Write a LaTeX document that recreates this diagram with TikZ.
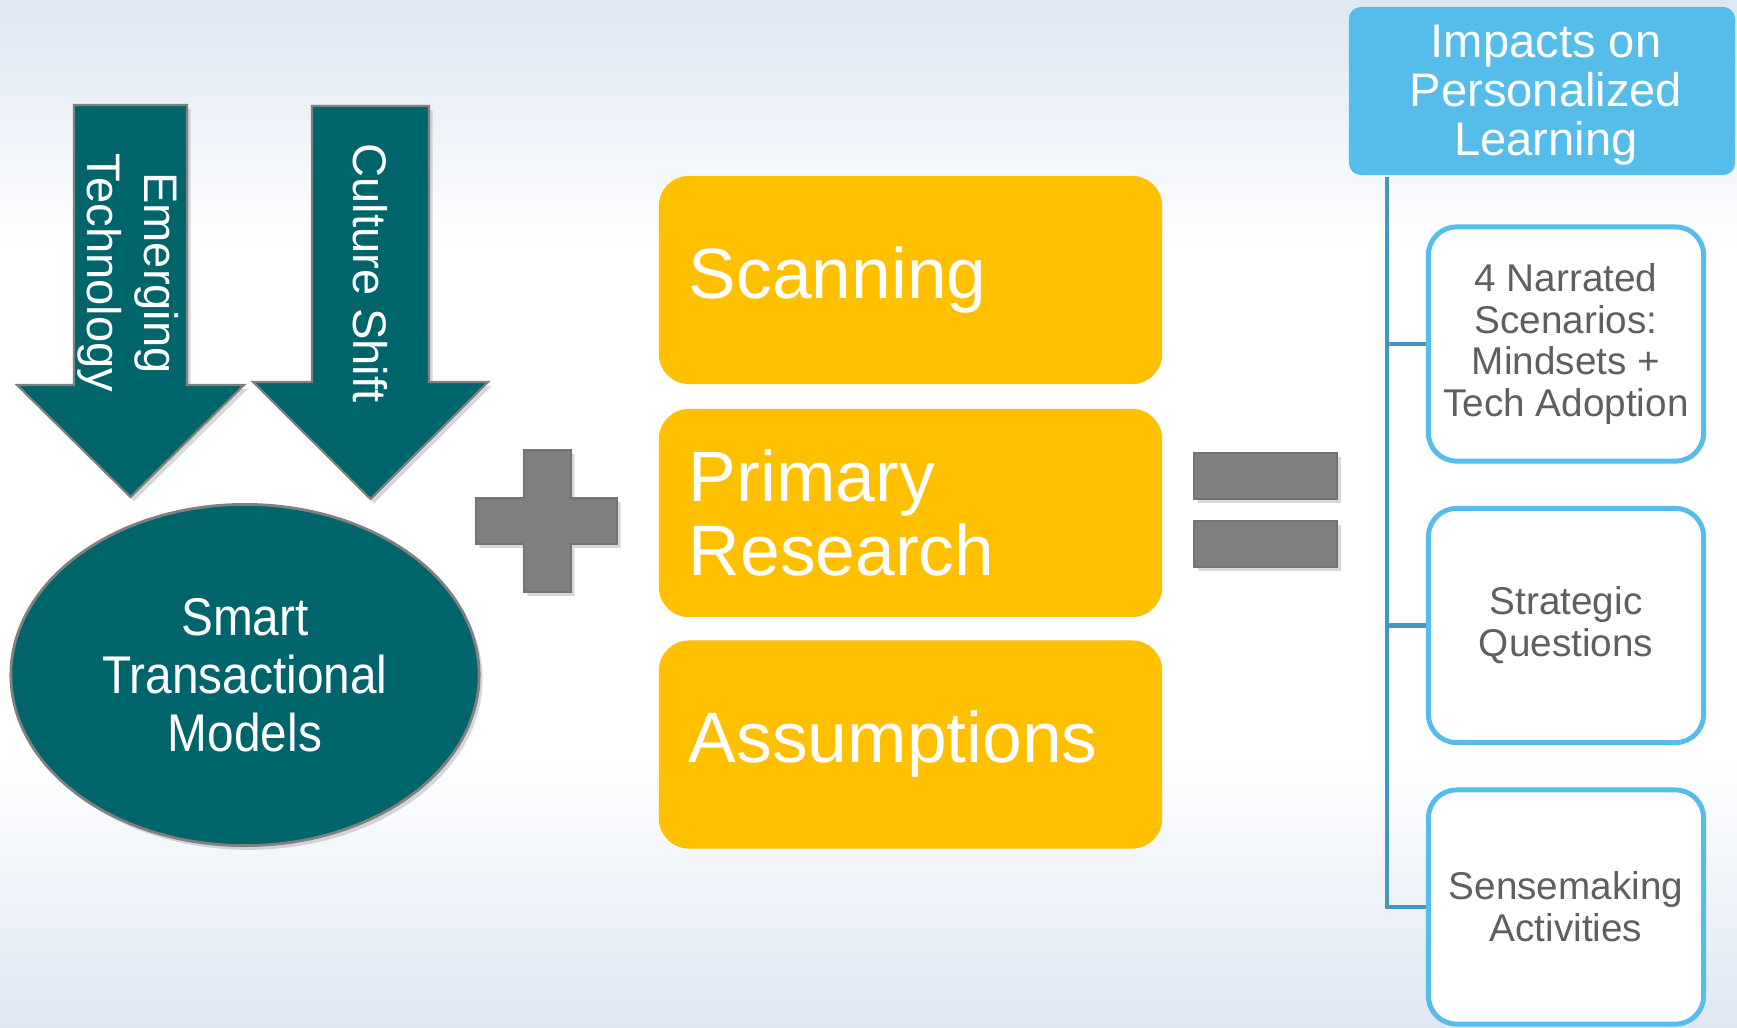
\documentclass[tikz,border=0pt]{standalone}
\usepackage{fontspec}
\setmainfont{Liberation Sans}
\newfontfamily\narrowfont{Liberation Sans}[FakeStretch=0.9]
\usetikzlibrary{shapes.geometric,shadows}

\definecolor{smartteal}{RGB}{0,101,106}
\definecolor{scanyellow}{RGB}{255,192,0}
\definecolor{impactblue}{RGB}{86,188,234}
\definecolor{treeblue}{RGB}{67,150,192}
\definecolor{kidgray}{RGB}{95,95,95}
\definecolor{signgray}{RGB}{127,127,127}
\definecolor{skyblue}{RGB}{222,231,243}

\begin{document}
\begin{tikzpicture}[x=0.01cm,y=-0.01cm,
  flow/.style={fill=smartteal,draw=gray,line width=0.6pt,
    drop shadow={shadow xshift=1pt,shadow yshift=-1.2pt,opacity=0.3}},
  flowtext/.style={text=white,align=center,inner sep=0pt,
    font=\fontsize{13.4}{16.3}\selectfont},
  stmoval/.style={ellipse,fill=smartteal,draw=gray,line width=0.8pt,
    minimum width=4.68cm,minimum height=3.41cm,inner sep=0pt,
    text=white,align=center,font=\narrowfont\fontsize{15.1}{16.5}\selectfont,
    drop shadow={shadow xshift=1pt,shadow yshift=-1.2pt,opacity=0.3}},
  opsign/.style={fill=signgray,draw=gray!90!black,line width=0.5pt,
    drop shadow={shadow xshift=1pt,shadow yshift=-1.2pt,opacity=0.3}},
  ybox/.style={rounded corners=0.3cm,fill=scanyellow,text=white,
    minimum width=5.03cm,minimum height=2.08cm,text width=4.43cm,
    inner xsep=0.3cm,align=left,font=\fontsize{20.3}{20.8}\selectfont},
  headbox/.style={rounded corners=0.12cm,fill=impactblue,text=white,
    minimum width=3.86cm,minimum height=1.68cm,align=center,
    font=\fontsize{13.4}{13.9}\selectfont},
  kidbox/.style={rounded corners=0.28cm,draw=impactblue,line width=1.4pt,
    fill=white,minimum width=2.75cm,minimum height=2.34cm,
    text=kidgray,align=center,font=\fontsize{11}{11.9}\selectfont},
  link/.style={draw=treeblue,line width=1.4pt}]

  \useasboundingbox (0,0) rectangle (1737,1027);
  \fill[white] (0,0) rectangle (1737,1027);
  \fill[top color=skyblue,bottom color=white] (0,0) rectangle (1737,250);
  \fill[top color=white,bottom color=skyblue] (0,760) rectangle (1737,1027);

  % drivers
  \draw[flow] (74,105) -- (187,105) -- (187,385) -- (244,385) -- (130.5,497)
    -- (17,385) -- (74,385) -- cycle;
  \draw[flow] (312,106) -- (429,106) -- (429,382) -- (488,382) -- (370.5,499)
    -- (253,382) -- (312,382) -- cycle;
  \node[flowtext,rotate=-90] (emerging) at (128,273) {Emerging\\Technology};
  \node[flowtext,rotate=-90] (culture) at (370,273) {Culture Shift};

  \node[stmoval] (stm) at (245,675) {Smart\\Transactional\\Models};

  % plus
  \draw[opsign] (524,450) -- (571,450) -- (571,498) -- (617,498) -- (617,544)
    -- (571,544) -- (571,592) -- (524,592) -- (524,544) -- (476,544)
    -- (476,498) -- (524,498) -- cycle;

  \node[ybox] (scanning) at (910.5,280) {Scanning};
  \node[ybox] (research) at (910.5,513) {Primary\\Research};
  \node[ybox] (assumptions) at (910.5,744.5) {Assumptions};

  % equals
  \draw[opsign] (1194,453) rectangle (1337,499);
  \draw[opsign] (1194,521) rectangle (1337,567);

  \node[headbox] (impacts) at (1542,91) {};
  \node[text=white,align=center,font=\fontsize{13.4}{13.9}\selectfont]
    (impactstext) at (1546,95) {Impacts on\\Personalized\\Learning};
  \node[kidbox] (narrated) at (1566,344) {4 Narrated\\Scenarios:\\Mindsets +\\Tech Adoption};
  \node[kidbox] (strategic) at (1566,625.5) {Strategic\\Questions};
  \node[kidbox] (sensemaking) at (1566,907) {Sensemaking\\Activities};

  \coordinate (trunk) at (1387,177);
  \draw[link] (trunk) |- (narrated.west);
  \draw[link] (trunk) |- (strategic.west);
  \draw[link] (trunk) |- (sensemaking.west);
\end{tikzpicture}
\end{document}
